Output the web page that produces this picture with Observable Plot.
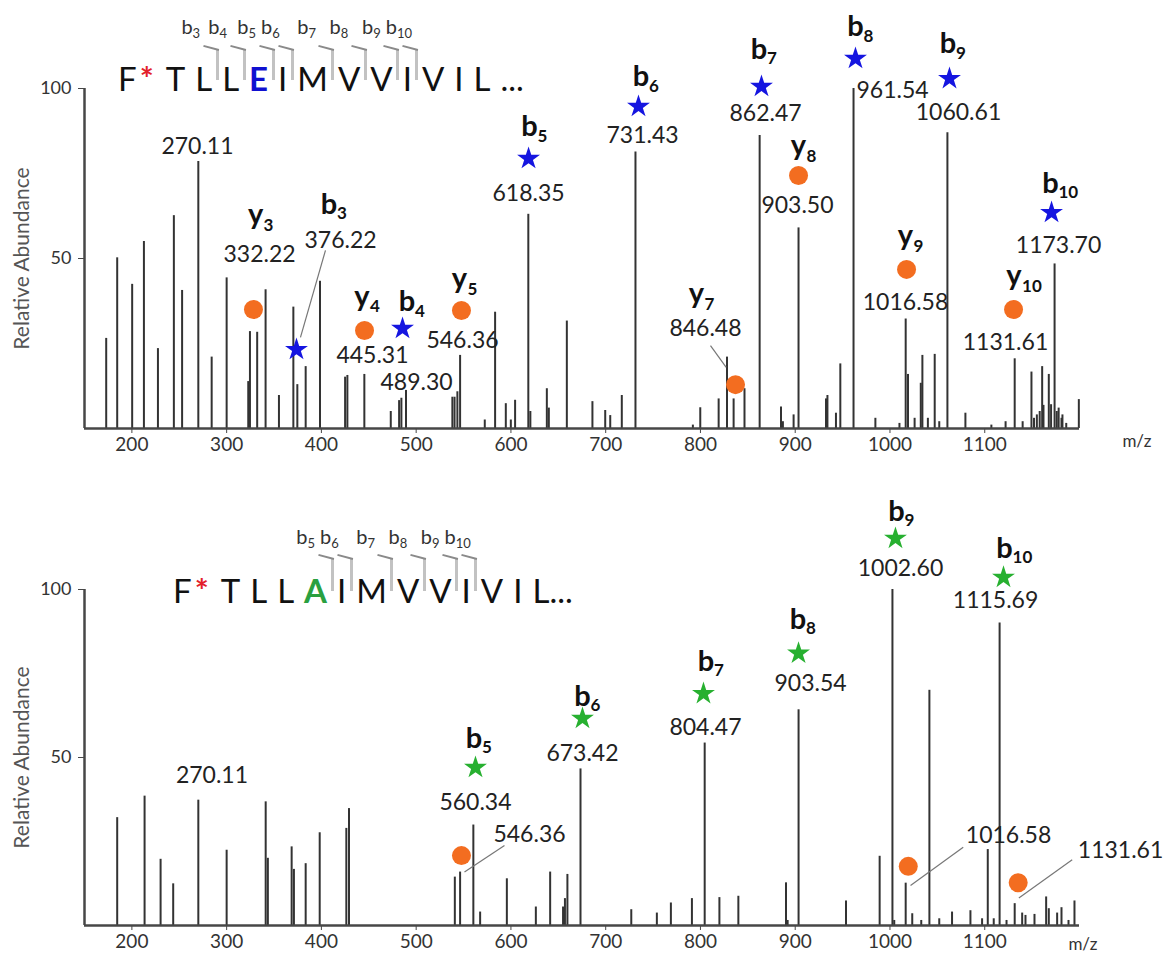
<!DOCTYPE html>
<html><head><meta charset="utf-8">
<script src="https://cdn.jsdelivr.net/npm/d3@7"></script>
<script src="https://cdn.jsdelivr.net/npm/@observablehq/plot@0.6"></script>
<style>
body{margin:0;background:#fff;}
#wrap{position:relative;width:1168px;height:960px;overflow:hidden;font-family:Lato,"Noto Sans",sans-serif;background:#fff;}
.panel{position:absolute;left:0;width:1168px;height:480px;}
.seq{position:absolute;white-space:nowrap;font-family:Lato,sans-serif;font-size:33px;line-height:1;color:#111;z-index:1;}
.res{display:inline-block;position:relative;margin-right:10px;}
.ast{color:#e3202a;font-weight:bold;margin-left:3px;margin-right:2px;}
.bk{position:absolute;left:calc(100% + 3.5px);width:3px;background:#c2c2c2;z-index:-1;}
.bk::before{content:"";position:absolute;right:0;top:-1px;width:16px;height:1.6px;background:#8a8a8a;transform-origin:100% 50%;transform:rotate(15deg);}
.bl{position:absolute;right:12px;font-size:20px;font-weight:normal;color:#333;line-height:1;}
.bl.last{right:0;}
.bl sub{font-size:13px;vertical-align:baseline;position:relative;top:4px;}
</style>
</head><body>
<div id="wrap">
  <div id="top" class="panel" style="top:0"></div>
  <div id="bot" class="panel" style="top:480px"></div>
  <div id="seqTop" class="seq" style="left:118px;top:62px"></div>
  <div id="seqBot" class="seq" style="left:173px;top:574px"></div>
</div>
<script>
// ---------- DATA ----------
const xTicks = [200,300,400,500,600,700,800,900,1000,1100];
const yTicks = [50,100];

const topResidues = ["F","T","L","L","E","I","M","V","V","I","V","I","L"];
const topMutation = 4;
const topCuts = [3,4,5,6,7,8,9,10];
const botResidues = ["F","T","L","L","A","I","M","V","V","I","V","I","L"];
const botMutation = 4;
const botCuts = [5,6,7,8,9,10];

// [m/z, relative abundance]
const topPeaks = [
 [172.9,26.5],[184.5,50.2],[200.3,42.4],[212.7,55],[227.5,23.5],[244.3,62.6],[253,40.6],
 [270.11,78.5],[284.2,21],[300,44.3],[322.8,13.8],[324.6,28.5],[332.22,28.3],[341.1,40.8],
 [355.2,9.7],[370.4,35.7],[374.6,12.9],[383.4,18.2],[398.5,43.3],[425,15.1],[427.4,15.6],
 [445.31,15.9],[473.2,5],[482,8.2],[484.4,8.9],[489.3,11.2],[538.2,9.2],[540.5,9.2],[543.5,10.8],
 [546.36,21.5],[572.4,2.5],[583.3,34.2],[594.6,7.3],[599.9,2.5],[604.4,8.3],[618.35,63],[620.5,5],
 [637.9,11.7],[640,6],[659,31.6],[686,7.9],[699.5,5.3],[704.8,3.8],[717,9.7],[731.43,81.3],
 [792,1],[799.8,6.1],[819.2,8.7],[828,21],[835,8.7],[846.48,11.7],[862.47,86.2],[885,6.3],[887,2],
 [898.3,4],[903.5,59],[932.5,8.7],[934,9.7],[943,4.5],[947.6,19],[961.54,100],[984.6,3],[1010,1.5],
 [1016.58,32.2],[1019,15.9],[1026,3],[1032.5,13.3],[1034.2,21.5],[1040,3],[1047.2,21.8],[1052,2],
 [1060.61,87],[1079.6,4.5],[1107,1],[1122,2],[1131.61,20.5],[1140,2],[1149.3,16.6],[1152,3],
 [1155,4],[1158,5],[1160.6,18.2],[1162,6.8],[1167.6,15.9],[1170,7],[1173.7,48.4],[1176,5],
 [1178,6],[1181,3],[1182,4],[1186,1.5],[1199.3,8.5]
];
const botPeaks = [
 [184.5,32.1],[213.4,38.5],[230.3,19.7],[243.6,12.4],[270.11,37.3],[300,22.4],[341.2,36.8],
 [343.5,20],[368.6,23.4],[371,16.7],[383.4,18.4],[398.2,27.6],[426.3,28.9],[429.1,34.8],
 [540.8,14.4],[546.36,15.9],[560.34,29.9],[567.5,4],[595.7,13.9],[626.3,5.5],[641.4,15.9],
 [655,5.5],[657,8],[659.6,15.2],[673.42,46.6],[727,4.7],[754,3.7],[768.8,6.7],[791,8],
 [804.47,54.3],[820,8.3],[840,8.7],[890.3,12.7],[892,1.5],[903.54,64.2],[953.6,7.3],[989.1,20.6],
 [1002.6,100],[1004.5,1.5],[1016.58,12.6],[1023.5,3.5],[1033,1.5],[1041.6,70],[1052,2],
 [1065.5,4],[1084.9,4.4],[1097.2,2],[1103.2,22.6],[1109.5,2],[1115.69,90],[1123,1.5],
 [1131.61,6.5],[1139.5,3.7],[1143,3],[1152.5,3.3],[1164.8,8.5],[1167.6,5],[1176.4,3.7],
 [1181,5.3],[1188.4,1.5],[1194.7,7.3]
];

// annotated fragment ions: marker (mx,my), ion letter (lx,ly), m/z label (nx,ny)
const topIons = [
 {ion:"y",n:"3",label:"332.22",mx:328.3,my:35.0,lx:330.5,ly:61.6,nx:334.7,ny:51.2},
 {ion:"b",n:"3",label:"376.22",mx:373.7,my:23.2,lx:408.0,ly:66.2,nx:420.2,ny:55.3},
 {ion:"y",n:"4",label:"445.31",mx:445.5,my:28.8,lx:442.8,ly:37.5,nx:453.9,ny:21.5},
 {ion:"b",n:"4",label:"489.30",mx:485.6,my:29.4,lx:490.3,ly:37.6,nx:500.4,ny:13.5},
 {ion:"y",n:"5",label:"546.36",mx:547.8,my:34.7,lx:545.7,ly:42.6,nx:548.9,ny:25.9},
 {ion:"b",n:"5",label:"618.35",mx:618.6,my:79.4,lx:619.6,ly:89.1,nx:618.6,ny:69.1},
 {ion:"b",n:"6",label:"731.43",mx:734.6,my:94.7,lx:737.3,ly:103.8,nx:738.9,ny:86.2},
 {ion:"y",n:"7",label:"846.48",mx:837.0,my:12.9,lx:795.8,ly:38.2,nx:805.3,ny:29.4},
 {ion:"b",n:"7",label:"862.47",mx:864.4,my:100.6,lx:861.8,ly:111.8,nx:868.7,ny:92.6},
 {ion:"y",n:"8",label:"903.50",mx:903.5,my:74.4,lx:903.5,ly:81.8,nx:902.4,ny:65.6},
 {ion:"b",n:"8",label:"961.54",mx:963.6,my:108.8,lx:963.6,ly:118.5,nx:1002.7,ny:99.4},
 {ion:"y",n:"9",label:"1016.58",mx:1017.5,my:46.8,lx:1016.4,ly:55.3,nx:1016.4,ny:37.1},
 {ion:"b",n:"9",label:"1060.61",mx:1062.8,my:102.9,lx:1061.2,ly:113.5,nx:1072.3,ny:92.9},
 {ion:"y",n:"10",label:"1131.61",mx:1130.4,my:35.0,lx:1130.9,ly:43.5,nx:1121.9,ny:25.3},
 {ion:"b",n:"10",label:"1173.70",mx:1170.5,my:63.5,lx:1169.4,ly:72.4,nx:1177.9,ny:53.8}
];
const topLeaders = [
 {x1:377.9,y1:26.8,x2:404.3,y2:52.4},
 {x1:810.6,y1:24.4,x2:827.2,y2:18.0}
];
const topPeakLabels = [{mz:269.2,v:82.9,label:"270.11"}];

const botIons = [
 {ion:"b",n:"5",label:"560.34",mx:562.6,my:47.0,lx:561.0,ly:56.0,nx:562.6,ny:36.6},
 {ion:"b",n:"6",label:"673.42",mx:675.5,my:61.6,lx:675.5,ly:68.5,nx:675.5,ny:51.2},
 {ion:"b",n:"7",label:"804.47",mx:803.2,my:69.0,lx:805.9,ly:78.9,nx:805.3,ny:58.9},
 {ion:"b",n:"8",label:"903.54",mx:903.5,my:81.0,lx:903.0,ly:91.4,nx:916.2,ny:72.0},
 {ion:"b",n:"9",label:"1002.60",mx:1005.8,my:115.2,lx:1006.9,ly:123.5,nx:1011.1,ny:106.3},
 {ion:"b",n:"10",label:"1115.69",mx:1119.8,my:103.6,lx:1120.9,ly:112.5,nx:1111.4,ny:96.7}
];
const botCircles = [
 {mx:547.8,my:20.8},{mx:1019.3,my:17.6},{mx:1135.3,my:12.7}
];
const botLeaders = [
 {x1:551.0,y1:15.9,x2:593.2,y2:23.8},
 {x1:1021.7,y1:11.9,x2:1077.3,y2:23.3},
 {x1:1136.0,y1:8.2,x2:1192.3,y2:19.6}
];
const botPeakLabels = [
 {mz:284.5,v:44.6,label:"270.11"},
 {mz:619.6,v:27.1,label:"546.36"},
 {mz:1125.1,v:26.8,label:"1016.58"},
 {mz:1243.3,v:22.3,label:"1131.61"}
];

// ---------- DRAW ----------
const ORANGE = "#f36d20";
function ionMarks(ions, starFill) {
  const b = ions.filter(d => d.ion === "b"), y = ions.filter(d => d.ion === "y");
  return [
    Plot.dot(b, {x:"mx", y:"my", symbol:"star", r:7.2, fill:starFill, stroke:null}),
    Plot.dot(y, {x:"mx", y:"my", r:9.5, fill:ORANGE, stroke:null}),
    Plot.text(b, {x:"lx", y:"ly", text:"ion", fontSize:29, fontWeight:"bold", lineAnchor:"bottom", dy:10.5, fill:"#111"}),
    Plot.text(y, {x:"lx", y:"ly", text:"ion", fontSize:29, fontWeight:"bold", lineAnchor:"bottom", dy:4.5, fill:"#111"}),
    Plot.text(b, {x:"lx", y:"ly", text:"n", fontSize:17, fontWeight:"bold", textAnchor:"start", dx:8, dy:10.5, fill:"#111"}),
    Plot.text(y, {x:"lx", y:"ly", text:"n", fontSize:17, fontWeight:"bold", textAnchor:"start", dx:8, dy:6, fill:"#111"}),
    Plot.text(ions, {x:"nx", y:"ny", text:"label", fontSize:23, fill:"#222"})
  ];
}

function panel({peaks, ions, circles, leaders, peakLabels, starFill, mt, mb, mzDx, mzDy}) {
  const pk = peaks.map(([mz, v]) => ({mz, v}));
  return Plot.plot({
    width:1168, height:480,
    marginLeft:84, marginRight:89, marginTop:mt, marginBottom:mb,
    x:{domain:[150,1200]},
    y:{domain:[0,100]},
    style:{background:"transparent", fontFamily:"Lato, sans-serif", overflow:"visible", color:"#333"},
    marks:[
      Plot.ruleX(pk, {x:"mz", y1:0, y2:"v", stroke:"#333", strokeWidth:2}),
      Plot.ruleY([0], {stroke:"#474747", strokeWidth:2.5}),
      Plot.ruleX([150], {y1:0, y2:100, stroke:"#474747", strokeWidth:2.5}),
      Plot.axisX({ticks:xTicks, tickSize:5, tickPadding:4, fontSize:19, label:null, stroke:"#474747", fill:"#333", tickFormat:d=>String(d)}),
      Plot.axisY({ticks:yTicks, tickSize:6, tickPadding:7, fontSize:18, label:null, stroke:"#474747", fill:"#333"}),
      Plot.text(["m/z"], {frameAnchor:"bottom-right", dx:mzDx, dy:mzDy, fontSize:17, fill:"#333"}),
      Plot.text(["Relative Abundance"], {frameAnchor:"left", textAnchor:"middle", rotate:-90, dx:-62, fontSize:21, fill:"#555"}),
      Plot.link(leaders, {x1:"x1", y1:"y1", x2:"x2", y2:"y2", stroke:"#777", strokeWidth:1.2}),
      Plot.dot(circles, {x:"mx", y:"my", r:9.5, fill:ORANGE, stroke:null}),
      Plot.text(peakLabels, {x:"mz", y:"v", text:"label", fontSize:23, fill:"#222"}),
      ...ionMarks(ions, starFill)
    ]
  });
}

document.getElementById("top").append(panel({
  peaks:topPeaks, ions:topIons, circles:[], leaders:topLeaders, peakLabels:topPeakLabels,
  starFill:"#1515e0", mt:88, mb:52, mzDx:72, mzDy:18
}));
document.getElementById("bot").append(panel({
  peaks:botPeaks, ions:botIons, circles:botCircles, leaders:botLeaders, peakLabels:botPeakLabels,
  starFill:"#27b030", mt:109, mb:35, mzDx:18, mzDy:24
}));

function buildSeq(el, residues, mut, mutColor, cuts, bkTop, bkH, blTop, ending, attachEnding) {
  const last = Math.max(...cuts);
  residues.forEach((r, i) => {
    const s = document.createElement("span");
    s.className = "res";
    const t = document.createElement("span");
    t.textContent = r + (attachEnding && i === residues.length - 1 ? ending : "");
    if (i === mut) { t.style.color = mutColor; t.style.fontWeight = "bold"; }
    s.appendChild(t);
    if (i === 0) {
      const a = document.createElement("span");
      a.className = "ast"; a.textContent = "*";
      s.appendChild(a);
    }
    if (cuts.includes(i + 1)) {
      const bk = document.createElement("span");
      bk.className = "bk"; bk.style.top = bkTop + "px"; bk.style.height = bkH + "px";
      s.appendChild(bk);
      const bl = document.createElement("span");
      bl.className = "bl" + (i + 1 === last ? " last" : ""); bl.style.top = blTop + "px";
      bl.innerHTML = "b<sub>" + (i + 1) + "</sub>";
      s.appendChild(bl);
    }
    el.appendChild(s);
  });
  if (!attachEnding) {
    const e = document.createElement("span");
    e.className = "res"; e.textContent = ending;
    el.appendChild(e);
  }
  // keep the fragment labels from colliding
  const labels = [...el.querySelectorAll(".bl")];
  let prevRight = -Infinity;
  labels.forEach(l => {
    const r = l.getBoundingClientRect();
    const shift = Math.max(0, prevRight + 5 - r.left);
    if (shift > 0) l.style.transform = `translateX(${shift}px)`;
    prevRight = r.right + shift;
  });
}
buildSeq(document.getElementById("seqTop"), topResidues, topMutation, "#1010d0", topCuts, -12, 30, -46, "...", false);
buildSeq(document.getElementById("seqBot"), botResidues, botMutation, "#2aa040", botCuts, -14.6, 32, -47.6, "...", true);
</script>
</body></html>
